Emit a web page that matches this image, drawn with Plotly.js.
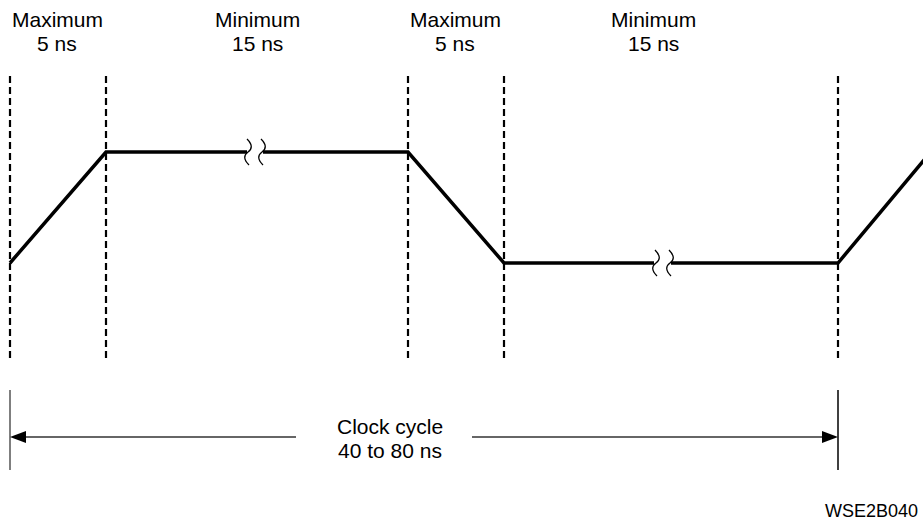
<!DOCTYPE html>
<html>
<head>
<meta charset="utf-8">
<script src="https://cdn.plot.ly/plotly-3.0.1.min.js"></script>
<style>html,body{margin:0;padding:0;background:#fff;}#chart{width:923px;height:520px;}</style>
</head>
<body>
<div id="chart"></div>
<script>
// Timing diagram values (horizontal = time position, vertical = signal level on a screen-like scale)
const edgeTimes = [10, 106, 408, 504, 838];          // dashed boundary positions
const waveX = [10, 106, 247, null, 263, 408, 504, 654, null, 671, 838, 940];
const waveY = [263, 152, 152, null, 152, 152, 263, 263, null, 263, 263, 141];
const breakX = [248, 262, 656, 670];
const breakY = [152, 152, 263, 263];
const labelX = [57, 257, 455, 653];
const labelTop = ["Maximum", "Minimum", "Maximum", "Minimum"];
const labelBottom = ["5 ns", "15 ns", "5 ns", "15 ns"];
const cycleStart = 10, cycleEnd = 838;
const cycleText = ["Clock cycle", "40 to 80 ns"];
const figId = "WSE2B040";

const font = {family: "Liberation Sans, Arial, sans-serif", size: 21, color: "#000"};
const traces = [];
// dashed boundaries
edgeTimes.forEach(t => {
  traces.push({x: [t, t], y: [76, 359], mode: "lines", line: {color: "#000", width: 2.2, dash: "7px,4px"}, hoverinfo: "skip"});
});
// waveform
traces.push({x: waveX, y: waveY, mode: "lines", line: {color: "#000", width: 3.5}, hoverinfo: "skip", connectgaps: false});
// dimension lines
traces.push({x: [cycleStart, cycleStart], y: [390, 470], mode: "lines", line: {color: "#555", width: 1.5}, hoverinfo: "skip"});
traces.push({x: [cycleEnd, cycleEnd], y: [390, 470], mode: "lines", line: {color: "#000", width: 1.5}, hoverinfo: "skip"});
traces.push({x: [cycleStart + 12, 296, null, 472, cycleEnd - 12], y: [437, 437, null, 437, 437], mode: "lines", line: {color: "#666", width: 2}, hoverinfo: "skip"});

const shapes = [];
breakX.forEach((bx, i) => {
  const by = breakY[i];
  shapes.push({type: "path", xref: "x", yref: "y",
    path: `M ${bx-1} ${by-13} Q ${bx+7} ${by-5} ${bx} ${by} Q ${bx-7} ${by+5} ${bx+1} ${by+13}`,
    line: {color: "#000", width: 1.3}});
});
shapes.push({type: "path", xref: "x", yref: "y", path: `M ${cycleStart} 437 L ${cycleStart+16} 431 L ${cycleStart+16} 443 Z`, fillcolor: "#000", line: {color: "#000", width: 0}});
shapes.push({type: "path", xref: "x", yref: "y", path: `M ${cycleEnd} 437 L ${cycleEnd-16} 431 L ${cycleEnd-16} 443 Z`, fillcolor: "#000", line: {color: "#000", width: 0}});

const annotations = [];
labelX.forEach((lx, i) => {
  annotations.push({x: lx, y: 19, text: labelTop[i], showarrow: false, font: font, xanchor: "center", yanchor: "middle"});
  annotations.push({x: lx, y: 43, text: labelBottom[i], showarrow: false, font: font, xanchor: "center", yanchor: "middle"});
});
annotations.push({x: 390, y: 426, text: cycleText[0], showarrow: false, font: font, xanchor: "center", yanchor: "middle"});
annotations.push({x: 390, y: 450, text: cycleText[1], showarrow: false, font: font, xanchor: "center", yanchor: "middle"});
annotations.push({x: 920, y: 511, text: figId, showarrow: false, font: {family: font.family, size: 18, color: "#000"}, xanchor: "right", yanchor: "middle"});

const layout = {
  width: 923, height: 520,
  margin: {l: 0, r: 0, t: 0, b: 0},
  paper_bgcolor: "#fff", plot_bgcolor: "#fff",
  showlegend: false,
  xaxis: {range: [0, 923], visible: false, fixedrange: true},
  yaxis: {range: [520, 0], visible: false, fixedrange: true},
  shapes: shapes,
  annotations: annotations
};
Plotly.newPlot("chart", traces, layout, {staticPlot: true, displayModeBar: false});
</script>
</body>
</html>
